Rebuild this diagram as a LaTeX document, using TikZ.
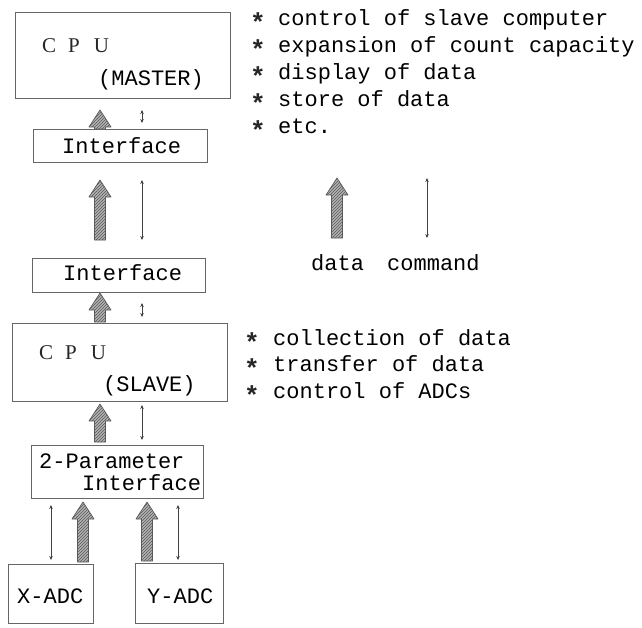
\documentclass[tikz,border=0pt]{standalone}
\usepackage{fontspec}
\setmonofont{Liberation Mono}
\newfontfamily\cpufont{Liberation Serif}
\usetikzlibrary{calc,patterns,arrows.meta}

% hatched block arrow pointing up: #1 foot point, #2 head point,
% #3 gap above the foot, #4 gap below the head (pt)
\newcommand\dataarr[4]{%
  \path[datafill] let \p1=#1, \p2=#2 in
    (\x1-5.5pt,{\y1+#3pt}) -- (\x1-5.5pt,{\y2-#4pt-17pt})
    -- (\x1-11pt,{\y2-#4pt-17pt}) -- (\x1,{\y2-#4pt})
    -- (\x1+11pt,{\y2-#4pt-17pt}) -- (\x1+5.5pt,{\y2-#4pt-17pt})
    -- (\x1+5.5pt,{\y1+#3pt}) -- cycle;}

\begin{document}
\begin{tikzpicture}[x=1pt,y=-1pt,
  box/.style={draw=black!60, line width=0.7pt, anchor=north west,
    inner sep=0pt, outer sep=0pt},
  mono/.style={font=\ttfamily\fontsize{22}{22}\selectfont,
    text=black, inner sep=0pt, anchor=base west},
  star/.style={font=\ttfamily\bfseries\fontsize{26}{26}\selectfont,
    text=black!85, inner sep=0pt, anchor=base west},
  serif/.style={font=\cpufont\fontsize{21}{21}\selectfont, text=black!85,
    inner sep=0pt, anchor=base west},
  datafill/.style={draw=black!65, line width=0.7pt, line join=round,
    preaction={fill=black!30}, pattern=north east lines,
    pattern color=black!65},
  cmd/.style={draw=black!75, line width=0.9pt,
    {Stealth[length=4pt,width=3.5pt]}-{Stealth[length=4pt,width=3.5pt]}}]
\useasboundingbox (0,0) rectangle (642,627);

% columns of the vertical connectors
\coordinate (colD) at (100,0);
\coordinate (colC) at (142,0);
\coordinate (colXc) at (51,0);
\coordinate (colXd) at (83,0);
\coordinate (colYd) at (147,0);
\coordinate (colYc) at (178,0);

% boxes
\node[box, minimum width=215pt, minimum height=86pt] (master) at (15,12) {};
\node[box, minimum width=174pt, minimum height=33pt] (ifa) at (33,129) {};
\node[box, minimum width=173pt, minimum height=34pt] (ifb) at (32,258) {};
\node[box, minimum width=215pt, minimum height=78pt] (slave) at (12,323) {};
\node[box, minimum width=172pt, minimum height=53pt] (twop) at (31,445) {};
\node[box, minimum width=85pt, minimum height=59pt] (xadc) at (8,564) {};
\node[box, minimum width=88pt, minimum height=60pt] (yadc) at (135,563) {};

% box texts
\node[serif] (mcpu) at (42,52) {C\hspace{12pt}P\hspace{14pt}U};
\node[mono] (mname) at (98,85) {(MASTER)};
\node[mono] (ifatext) at (62,153) {Interface};
\node[mono] (ifbtext) at (63,280) {Interface};
\node[serif] (scpu) at (39,359) {C\hspace{12pt}P\hspace{14pt}U};
\node[mono] (sname) at (103,391) {(SLAVE)};
\node[mono] (twoa) at (39,468) {2-Parameter};
\node[mono] (twob) at (82,490) {Interface};
\node[mono] (xtext) at (17,603) {X-ADC};
\node[mono] (ytext) at (147,603) {Y-ADC};

% data paths
\dataarr{(ifa.north -| colD)}{(master.south -| colD)}{0}{12}
\dataarr{(ifb.north -| colD)}{(ifa.south -| colD)}{18}{18}
\dataarr{(slave.north -| colD)}{(ifb.south -| colD)}{1}{1}
\dataarr{(twop.north -| colD)}{(slave.south -| colD)}{3}{3}
\dataarr{(xadc.north -| colXd)}{(twop.south -| colXd)}{2}{4}
\dataarr{(yadc.north -| colYd)}{(twop.south -| colYd)}{2}{4}

% command paths
\draw[cmd, shorten <=12pt, shorten >=6pt] (master.south -| colC) -- (ifa.north -| colC);
\draw[cmd, shorten <=18pt, shorten >=18pt] (ifa.south -| colC) -- (ifb.north -| colC);
\draw[cmd, shorten <=11pt, shorten >=6pt] (ifb.south -| colC) -- (slave.north -| colC);
\draw[cmd, shorten <=4pt, shorten >=5pt] (slave.south -| colC) -- (twop.north -| colC);
\draw[cmd, shorten <=7pt, shorten >=4pt] (twop.south -| colXc) -- (xadc.north -| colXc);
\draw[cmd, shorten <=7pt, shorten >=3pt] (twop.south -| colYc) -- (yadc.north -| colYc);

% legend
\coordinate (legDfoot) at (337,238);
\coordinate (legDhead) at (337,178);
\coordinate (legCtop) at (427,178);
\coordinate (legCbot) at (427,238);
\dataarr{(legDfoot)}{(legDhead)}{0}{0}
\draw[cmd] (legCtop) -- (legCbot);
\node[mono] (legdata) at (311,270) {data};
\node[mono] (legcmd) at (387,270) {command};

% tasks of the master
\foreach \t [count=\i] in {control of slave computer,
    expansion of count capacity, display of data, store of data, etc.}{
  \node[star] (mstar\i) at (250,{25+27*(\i-1)+6}) {*};
  \node[mono] (mtask\i) at (278,{25+27*(\i-1)}) {\t};
}

% tasks of the slave
\foreach \t [count=\i] in {collection of data, transfer of data,
    control of ADCs}{
  \node[star] (sstar\i) at (244,{345+26.5*(\i-1)+6}) {*};
  \node[mono] (stask\i) at (273,{345+26.5*(\i-1)}) {\t};
}
\end{tikzpicture}
\end{document}
